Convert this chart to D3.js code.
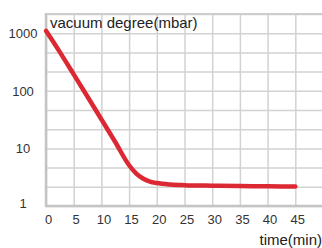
<!DOCTYPE html>
<html>
<head>
<meta charset="utf-8">
<script src="https://cdn.jsdelivr.net/npm/d3@7"></script>
<style>
  body { margin: 0; background: #fff; }
  svg { display: block; font-family: "Liberation Sans", Arial, sans-serif; }
</style>
</head>
<body>
<div id="chart"></div>
<script>
// data
const times = [0, 2.5, 5, 7.5, 10, 12.5, 15, 16.25, 17.5, 18.75, 20, 22.5, 25, 30, 35, 40, 45];
const pressure = [1100, 470, 193, 79, 32, 12.9, 5.1, 3.7, 3.0, 2.65, 2.5, 2.36, 2.3, 2.25, 2.22, 2.2, 2.18];
const xTicks = [0, 5, 10, 15, 20, 25, 30, 35, 40, 45];
const xGrid = [0, 5, 10, 15, 20, 25, 30, 35, 40, 45, 50];
const yTicks = [1, 10, 100, 1000];
const yGrid = d3.range(0, 11).map(k => Math.pow(10, k / 3));

const W = 322, H = 248;
const margin = { top: 14, left: 46, bottom: 42 };

const svg = d3.select("#chart").append("svg")
  .attr("width", W)
  .attr("height", H);

const x = d3.scaleLinear().domain([0, 50]).range([margin.left, 323]);
const y = d3.scaleLog().domain([1, Math.pow(10, 10 / 3)]).range([H - margin.bottom, margin.top]);

// grid
svg.append("g")
  .attr("transform", `translate(0,${H - margin.bottom})`)
  .call(d3.axisBottom(x).tickValues(xGrid).tickSize(-(H - margin.bottom - margin.top)).tickFormat(""))
  .call(g => g.select(".domain").remove())
  .selectAll("line").attr("stroke", "#d2d2d2").attr("stroke-width", 1.5);

svg.append("g")
  .attr("transform", `translate(${margin.left},0)`)
  .call(d3.axisLeft(y).tickValues(yGrid).tickSize(-(W - margin.left)).tickFormat(""))
  .call(g => g.select(".domain").remove())
  .selectAll("line").attr("stroke", "#d2d2d2").attr("stroke-width", 1.5);

// frame lines (left, bottom, top)
svg.append("line")
  .attr("x1", x(0)).attr("x2", x(0))
  .attr("y1", y.range()[1] - 1).attr("y2", y.range()[0] + 1)
  .attr("stroke", "#c4c4c4").attr("stroke-width", 2.5);
svg.append("line")
  .attr("x1", x(0) - 1).attr("x2", W)
  .attr("y1", y(1)).attr("y2", y(1))
  .attr("stroke", "#c4c4c4").attr("stroke-width", 2.5);
svg.append("line")
  .attr("x1", x(0)).attr("x2", W)
  .attr("y1", y.range()[1]).attr("y2", y.range()[1])
  .attr("stroke", "#cdcdcd").attr("stroke-width", 2);

// tick labels
const xLab = svg.append("g")
  .attr("transform", `translate(2,${H - margin.bottom + 9})`)
  .call(d3.axisBottom(x).tickValues(xTicks).tickSize(0).tickPadding(0));
xLab.select(".domain").remove();
xLab.selectAll("text")
  .attr("font-family", "Liberation Sans, Arial, sans-serif")
  .attr("font-size", 13).attr("fill", "#333");

const yLab = svg.append("g")
  .attr("transform", `translate(23,0)`)
  .call(d3.axisLeft(y).tickValues(yTicks).tickSize(0).tickPadding(0).tickFormat(d3.format("d")));
yLab.select(".domain").remove();
yLab.selectAll("text")
  .attr("text-anchor", "middle")
  .attr("font-family", "Liberation Sans, Arial, sans-serif")
  .attr("font-size", 13).attr("fill", "#333")
  .attr("dy", d => d === 1 ? "0.1em" : "0.35em");

// titles
svg.append("text")
  .attr("x", 50).attr("y", 28)
  .attr("font-size", 15).attr("fill", "#222")
  .text("vacuum degree(mbar)");

svg.append("text")
  .attr("x", 322).attr("y", 245)
  .attr("text-anchor", "end")
  .attr("font-size", 15).attr("fill", "#222")
  .text("time(min)");

// curve
const line = d3.line()
  .x((d, i) => x(times[i]))
  .y(d => y(d))
  .curve(d3.curveMonotoneX);

svg.append("path")
  .datum(pressure)
  .attr("d", line)
  .attr("fill", "none")
  .attr("stroke", "#dc2832")
  .attr("stroke-width", 4.5)
  .attr("stroke-linecap", "round");
</script>
</body>
</html>
